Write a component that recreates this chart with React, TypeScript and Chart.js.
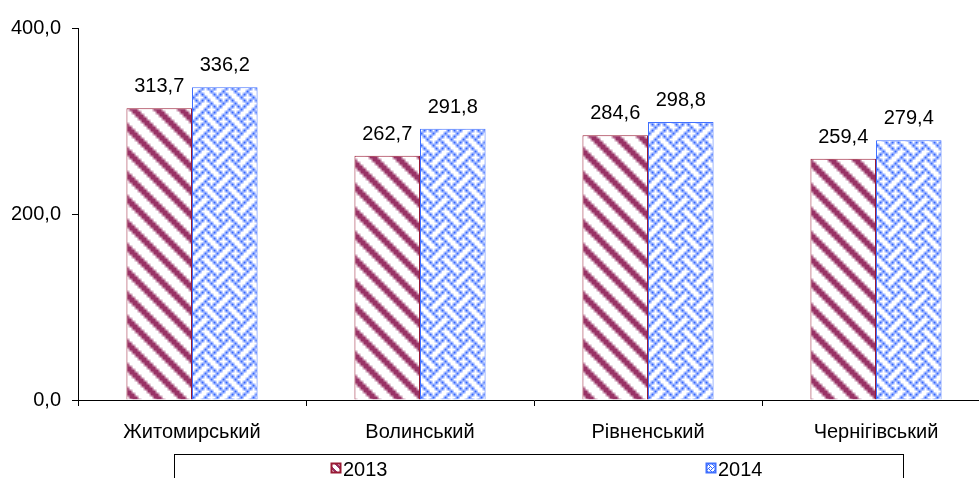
import React, { useEffect, useRef } from "react";
import { Chart, registerables } from "chart.js";

Chart.register(...registerables);

const categories = ["Житомирський", "Волинський", "Рівненський", "Чернігівський"];
const seriesNames = ["2013", "2014"];
const values2013 = [313.7, 262.7, 284.6, 259.4];
const values2014 = [336.2, 291.8, 298.8, 279.4];
const yTicks = [0, 200, 400];

const FONT = "'Liberation Sans', Arial, sans-serif";
const FONT_SIZE = 20;

const stripeBits = [0xc1, 0xe0, 0x70, 0x38, 0x1c, 0x0e, 0x07, 0x83];
const weaveBits = [0x88, 0x54, 0x22, 0x45, 0x88, 0x15, 0x22, 0x51];

function makePattern(bits: number[], fg: string, size: number): CanvasPattern | string {
  const small = document.createElement("canvas");
  small.width = 24;
  small.height = 24;
  const sc = small.getContext("2d");
  if (!sc) return fg;
  sc.fillStyle = "#ffffff";
  sc.fillRect(0, 0, 24, 24);
  sc.fillStyle = fg;
  for (let ty = 0; ty < 3; ty++)
    for (let tx = 0; tx < 3; tx++)
      for (let r = 0; r < 8; r++)
        for (let c = 0; c < 8; c++)
          if ((bits[r] >> (7 - c)) & 1) sc.fillRect(tx * 8 + c, ty * 8 + r, 1, 1);
  const big = document.createElement("canvas");
  big.width = size;
  big.height = size;
  const bc = big.getContext("2d");
  if (!bc) return fg;
  bc.imageSmoothingEnabled = true;
  const k = size / 8;
  bc.drawImage(small, -8 * k, -8 * k, 24 * k, 24 * k);
  const p = bc.createPattern(big, "repeat");
  return p || fg;
}

const fmt = (v: number) => v.toFixed(1).replace(".", ",");

export default function App() {
  const ref = useRef<HTMLCanvasElement | null>(null);

  useEffect(() => {
    const canvas = ref.current;
    if (!canvas) return;
    const redPattern = makePattern(stripeBits, "#993366", 24);
    const bluePattern = makePattern(weaveBits, "#3366ff", 24);
    const smallRed = makePattern(stripeBits, "#993366", 8);
    const smallBlue = makePattern(weaveBits, "#3366ff", 8);
    const colors = [
      { fill: redPattern, small: smallRed, border: "#991a33" },
      { fill: bluePattern, small: smallBlue, border: "#4070ff" },
    ];

    const labelsPlugin = {
      id: "valueLabels",
      afterDatasetsDraw(chart: any) {
        const ctx = chart.ctx;
        ctx.save();
        ctx.font = `${FONT_SIZE}px ${FONT}`;
        ctx.fillStyle = "#000";
        ctx.textAlign = "center";
        ctx.textBaseline = "alphabetic";
        chart.data.datasets.forEach((ds: any, i: number) => {
          const meta = chart.getDatasetMeta(i);
          meta.data.forEach((bar: any, j: number) => {
            ctx.fillText(fmt(ds.data[j]), bar.x, bar.y - 16);
          });
        });
        ctx.restore();
      },
    };

    const legendPlugin = {
      id: "boxLegend",
      afterDraw(chart: any) {
        const ctx = chart.ctx;
        ctx.save();
        ctx.strokeStyle = "#000";
        ctx.lineWidth = 1;
        ctx.strokeRect(174.5, 454.5, 729, 40);
        const items = [
          { x: 331, label: seriesNames[0], c: colors[0] },
          { x: 706, label: seriesNames[1], c: colors[1] },
        ];
        ctx.font = `${FONT_SIZE}px ${FONT}`;
        ctx.textBaseline = "alphabetic";
        ctx.textAlign = "left";
        items.forEach((it) => {
          ctx.fillStyle = it.c.small;
          ctx.fillRect(it.x, 463, 9, 9);
          ctx.strokeStyle = it.c.border;
          ctx.lineWidth = 2;
          ctx.strokeRect(it.x + 0.5, 463.5, 9, 9);
          ctx.fillStyle = "#000";
          ctx.fillText(it.label, it.x + 12, 476);
        });
        ctx.restore();
      },
    };

    const chart = new Chart(canvas, {
      type: "bar",
      data: {
        labels: categories,
        datasets: [
          {
            label: seriesNames[0],
            data: values2013,
            backgroundColor: colors[0].fill as any,
            borderColor: colors[0].border,
            borderWidth: 1,
            categoryPercentage: 0.575,
            barPercentage: 1,
          },
          {
            label: seriesNames[1],
            data: values2014,
            backgroundColor: colors[1].fill as any,
            borderColor: colors[1].border,
            borderWidth: 1,
            categoryPercentage: 0.575,
            barPercentage: 1,
          },
        ],
      },
      options: {
        responsive: false,
        animation: false,
        devicePixelRatio: 1,
        layout: { padding: { top: 28, right: 10, bottom: 0, left: 0 } },
        plugins: {
          legend: { display: false },
          tooltip: { enabled: false },
        },
        scales: {
          x: {
            grid: {
              display: true,
              drawOnChartArea: false,
              offset: true,
              tickLength: 6,
              color: "#000",
            },
            border: { display: true, color: "#000", width: 1 },
            ticks: {
              color: "#000",
              font: { family: FONT, size: FONT_SIZE },
              padding: 14,
              maxRotation: 0,
              autoSkip: false,
            },
            afterFit: (s: any) => {
              s.height = 78;
            },
          },
          y: {
            min: 0,
            max: 400,
            afterBuildTicks: (s: any) => {
              s.ticks = yTicks.map((v) => ({ value: v }));
            },
            grid: {
              display: true,
              drawOnChartArea: false,
              tickLength: 6,
              color: "#000",
            },
            border: { display: true, color: "#000", width: 1 },
            ticks: {
              color: "#000",
              font: { family: FONT, size: FONT_SIZE },
              padding: 11,
              callback: (v: any) => fmt(Number(v)),
            },
            afterFit: (s: any) => {
              s.width = 78;
            },
          },
        },
      },
      plugins: [labelsPlugin, legendPlugin],
    });
    return () => chart.destroy();
  }, []);

  return (
    <div
      style={{
        position: "fixed",
        left: 0,
        top: 0,
        width: 979,
        height: 478,
        overflow: "hidden",
        background: "#fff",
      }}
    >
      <canvas ref={ref} width={1000} height={478} style={{ display: "block" }} />
    </div>
  );
}
